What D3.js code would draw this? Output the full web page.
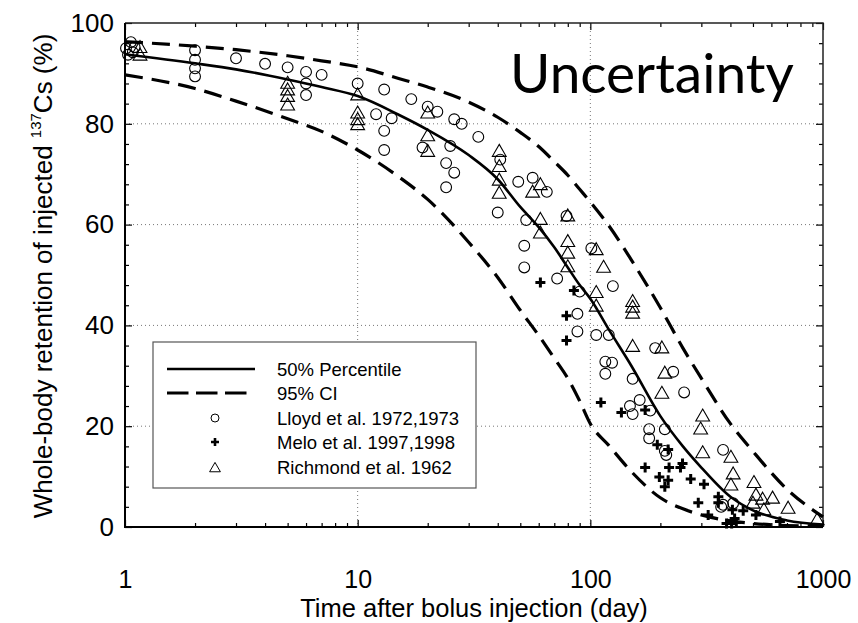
<!DOCTYPE html>
<html>
<head>
<meta charset="utf-8">
<script src="https://cdn.jsdelivr.net/npm/d3@7"></script>
<style>
  body { margin: 0; background: #fff; }
  svg text { font-family: "Liberation Sans", Arial, sans-serif; fill: #000; }
</style>
</head>
<body>
<div id="chart"></div>
<script>
// curves (day, % retained)
var curveDays = [1,2,3,5,7,10,15,20,30,40,50,60,70,80,90,100,120,150,200,250,300,400,500,700,1000];
var median = [93.8,92.0,90.8,88.8,87.3,85.5,81.8,78.8,73.8,69.0,63.5,59.5,55.5,51.5,48.0,45.3,39.2,32.0,22.0,16.0,11.8,6.0,3.3,1.3,0.5];
var upperCI = [96.3,95.4,94.7,93.5,92.5,91.3,89.0,87.3,84.3,81.3,78.3,75.5,72.5,69.8,67.0,64.5,59.8,53.0,43.5,35.5,29.5,20.5,15.0,7.5,2.0];
var lowerCI = [89.7,87.0,84.5,81.0,78.5,74.8,69.5,65.0,56.5,49.5,43.0,38.0,33.5,29.5,25.0,20.5,16.2,11.0,5.8,3.6,2.4,1.2,0.7,0.3,0.2];

// measurements [day, %]
var lloyd = [
  [1.01,95.0],[1.06,96.2],[1.03,93.7],[1.10,95.2],[1.08,94.2],
  [2,94.6],[2,92.7],[2,91.0],[2,89.4],[3,93.0],[4,91.9],[5,91.2],
  [6,90.3],[6,88.0],[6,85.7],[7,89.7],[10,88.0],
  [12,81.9],[13,86.8],[13,78.6],[13,74.8],[14,81.1],
  [17,84.9],[19,75.3],[20,83.4],[22,82.4],
  [24,72.2],[24,67.4],[25,75.6],[26,80.9],[26,70.3],[28,80.0],[33,77.4],
  [41,72.9],[40,62.4],[49,68.5],[56.5,69.3],[65,66.5],[53,60.9],[52,55.8],[52,51.5],
  [72,49.3],[79,61.7],[90,46.7],[88,42.3],[88,38.8],
  [101,55.3],[125,47.8],[106,38.1],[120,38.1],[116,32.8],[124,32.6],[116,30.4],
  [152,29.4],[190,35.5],[227,30.8],[253,26.7],
  [148,24.0],[163,25.2],[152,22.4],[181,23.1],
  [179,19.4],[179,17.6],[209,19.4],[209,15.1],[212,14.3],
  [372,15.3],[372,4.4],[365,4.0],[411,4.7]
];
var melo = [
  [61,48.5],[85,46.9],[79,41.9],[79,37.0],[111,24.7],[136,22.7],[172,23.2],
  [194,16.3],[216,15.4],[172,11.8],[218,11.8],[244,11.8],[249,12.6],
  [198,9.9],[216,9.3],[209,8.0],[270,9.5],[308,8.5],
  [291,4.8],[355,6.0],[355,4.8],[321,2.4],[408,3.4],[417,1.7],[424,0.9],
  [454,3.2],[515,2.4],[653,1.1],[385,0.7],[405,0.7]
];
var richmond = [
  [1.16,95.1],[1.16,93.6],
  [5,88.0],[5,86.7],[5,85.4],[5,83.7],
  [10,85.7],[10,82.1],[10,80.8],[10,79.8],
  [20,82.1],[20,77.6],[20,74.5],
  [40.6,74.5],[40.6,71.5],[40.6,68.8],[40.6,66.2],
  [61,67.9],[56.5,66.4],[61,61.0],[61,58.3],
  [80,61.7],[80,56.6],[80,54.3],[80,51.6],
  [106,55.0],[114,51.5],[106,46.5],[106,43.8],
  [152,44.7],[152,43.6],[152,42.4],[152,35.8],[203,35.5],[209,30.5],[203,26.5],
  [304,22.0],[298,19.4],[304,14.7],[402,13.8],[411,10.5],[402,8.3],[505,8.8],
  [515,6.3],[550,5.5],[607,5.7],[500,4.7],[557,3.4],[708,3.7],[944,1.4]
];

var xMajor = [1,10,100,1000];
var xMinor = [2,3,4,5,6,7,8,9,20,30,40,50,60,70,80,90,200,300,400,500,600,700,800,900];
var yMajor = [0,20,40,60,80,100];
var yMinor = [4,8,12,16,24,28,32,36,44,48,52,56,64,68,72,76,84,88,92,96];
var legendLabels = ["50% Percentile","95% CI","Lloyd et al. 1972,1973","Melo et al. 1997,1998","Richmond et al. 1962"];

var W = 858, H = 623;
var L = 125, R = 823, T = 23, B = 527;

var svg = d3.select("#chart").append("svg")
    .attr("width", W).attr("height", H);

var x = d3.scaleLog().domain([1,1000]).range([L,R]);
var y = d3.scaleLinear().domain([0,100]).range([B,T]);

// dotted grid at major ticks
var grid = svg.append("g").attr("stroke","#777").attr("stroke-width",1).attr("stroke-dasharray","1,3");
grid.selectAll("line.gy").data([20,40,60,80]).enter().append("line")
    .attr("x1",L).attr("x2",R).attr("y1",function(d){return y(d);}).attr("y2",function(d){return y(d);});
grid.selectAll("line.gx").data([10,100]).enter().append("line")
    .attr("y1",T).attr("y2",B).attr("x1",function(d){return x(d);}).attr("x2",function(d){return x(d);});

function cleanAxis(g) {
  g.select(".domain").remove();
  g.selectAll(".tick line").attr("stroke","#000").attr("stroke-width",1.2);
}

// bottom + top
svg.append("g").attr("transform","translate(0,"+B+")")
  .call(d3.axisBottom(x).tickValues(xMajor).tickFormat(d3.format("d")).tickSize(-7).tickPadding(43))
  .call(cleanAxis)
  .selectAll("text").attr("font-size",25).attr("font-family","Liberation Sans, Arial");
svg.append("g").attr("transform","translate(0,"+B+")")
  .call(d3.axisBottom(x).tickValues(xMinor).tickFormat("").tickSize(-4)).call(cleanAxis);
svg.append("g").attr("transform","translate(0,"+T+")")
  .call(d3.axisTop(x).tickValues(xMajor).tickFormat("").tickSize(-7)).call(cleanAxis);
svg.append("g").attr("transform","translate(0,"+T+")")
  .call(d3.axisTop(x).tickValues(xMinor).tickFormat("").tickSize(-4)).call(cleanAxis);

// left + right
svg.append("g").attr("transform","translate("+L+",0)")
  .call(d3.axisLeft(y).tickValues(yMajor).tickSize(-7).tickPadding(11))
  .call(cleanAxis)
  .selectAll("text").attr("font-size",26).attr("font-family","Liberation Sans, Arial");
svg.append("g").attr("transform","translate("+L+",0)")
  .call(d3.axisLeft(y).tickValues(yMinor).tickFormat("").tickSize(-4)).call(cleanAxis);
svg.append("g").attr("transform","translate("+R+",0)")
  .call(d3.axisRight(y).tickValues(yMajor).tickFormat("").tickSize(-7)).call(cleanAxis);
svg.append("g").attr("transform","translate("+R+",0)")
  .call(d3.axisRight(y).tickValues(yMinor).tickFormat("").tickSize(-4)).call(cleanAxis);

// frame
svg.append("path")
  .attr("d","M"+L+","+T+"H"+R+"V"+B)
  .attr("fill","none").attr("stroke","#222").attr("stroke-width",1.5);
svg.append("path")
  .attr("d","M"+L+","+T+"V"+B+"H"+R)
  .attr("fill","none").attr("stroke","#000").attr("stroke-width",2);

// curves
var line = d3.line()
  .x(function(d){return x(d[0]);})
  .y(function(d){return y(d[1]);})
  .curve(d3.curveMonotoneX);
function pairs(vals) { return curveDays.map(function(t,i){ return [t, vals[i]]; }); }

var plot = svg.append("g");
[upperCI, lowerCI].forEach(function(vals){
  plot.append("path").datum(pairs(vals))
    .attr("d", line).attr("fill","none").attr("stroke","#000")
    .attr("stroke-width",3.2).attr("stroke-dasharray","18,9");
});
plot.append("path").datum(pairs(median))
  .attr("d", line).attr("fill","none").attr("stroke","#000").attr("stroke-width",2.6);

// markers
var triPath = function(s){ return "M0,"+(-s*0.62)+"L"+(s*0.6)+","+(s*0.42)+"L"+(-s*0.6)+","+(s*0.42)+"Z"; };
var plusPath = function(s){ return "M"+(-s/2)+",0H"+(s/2)+"M0,"+(-s/2)+"V"+(s/2); };

plot.selectAll("circle.lloyd").data(lloyd).enter().append("circle")
  .attr("class","lloyd")
  .attr("cx",function(d){return x(d[0]);}).attr("cy",function(d){return y(d[1]);})
  .attr("r",5.4).attr("fill","none").attr("stroke","#000").attr("stroke-width",1.1);
plot.selectAll("path.melo").data(melo).enter().append("path")
  .attr("class","melo")
  .attr("transform",function(d){return "translate("+x(d[0])+","+y(d[1])+")";})
  .attr("d",plusPath(10)).attr("stroke","#000").attr("stroke-width",3);
plot.selectAll("path.rich").data(richmond).enter().append("path")
  .attr("class","rich")
  .attr("transform",function(d){return "translate("+x(d[0])+","+y(d[1])+")";})
  .attr("d",triPath(11.5)).attr("fill","none").attr("stroke","#000").attr("stroke-width",1.1);

// legend
var lg = svg.append("g");
lg.append("rect").attr("x",153).attr("y",342).attr("width",323).attr("height",146)
  .attr("fill","#fff").attr("stroke","#555").attr("stroke-width",1.2);
var rowY = [369,393,418,442,467];
lg.append("line").attr("x1",167).attr("x2",255).attr("y1",rowY[0]).attr("y2",rowY[0])
  .attr("stroke","#000").attr("stroke-width",2.6);
lg.append("line").attr("x1",167).attr("x2",247).attr("y1",rowY[1]).attr("y2",rowY[1])
  .attr("stroke","#000").attr("stroke-width",3.2).attr("stroke-dasharray","21.5,7.5");
lg.append("circle").attr("cx",215).attr("cy",rowY[2]).attr("r",4)
  .attr("fill","none").attr("stroke","#000").attr("stroke-width",1);
lg.append("path").attr("transform","translate(215,"+rowY[3]+")").attr("d",plusPath(8))
  .attr("stroke","#000").attr("stroke-width",2.6);
lg.append("path").attr("transform","translate(215,"+(rowY[4]+1)+")").attr("d",triPath(9))
  .attr("fill","none").attr("stroke","#000").attr("stroke-width",1);
lg.selectAll("text").data(legendLabels).enter().append("text")
  .attr("x",277).attr("y",function(d,i){return rowY[i];}).attr("dy","0.36em")
  .attr("font-size",18.5).text(function(d){return d;});

// axis titles
svg.append("text").attr("x",(L+R)/2).attr("y",617).attr("text-anchor","middle")
  .attr("font-size",25.5).text("Time after bolus injection (day)");
var yt = svg.append("text").attr("transform","translate(52,276) rotate(-90)")
  .attr("text-anchor","middle").attr("font-size",26);
yt.append("tspan").text("Whole-body retention of injected ");
yt.append("tspan").attr("font-size",15).attr("dy",-11).text("137");
yt.append("tspan").attr("dy",11).text("Cs (%)");

// overlay title
svg.append("text").attr("x",510).attr("y",93)
  .style("font-family","Lato, 'Open Sans', sans-serif")
  .attr("font-size",55).text("Uncertainty");
</script>
</body>
</html>
